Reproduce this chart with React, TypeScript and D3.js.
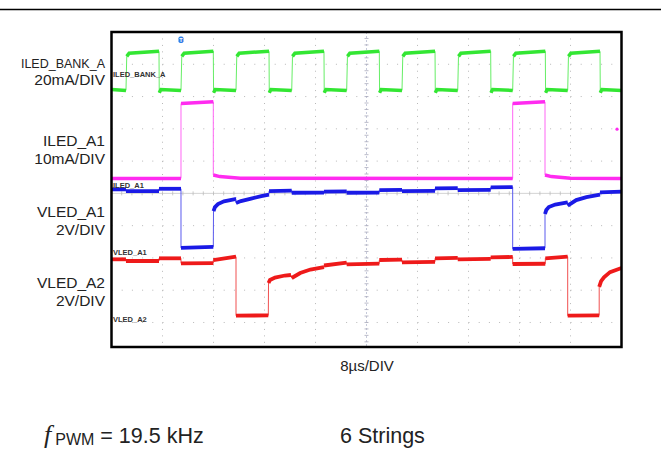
import React from "react";
import * as d3 from "d3";

// ---- data (time in µs, level in screen divisions, 0 = centre line) ----
const greenRise = [2.27, 10.9, 19.53, 28.27, 36.89, 45.57, 54.31, 62.93, 71.56];
const greenFall = [7.45, 15.97, 24.71, 33.33, 42.01, 50.75, 59.48, 68.05, 76.63];
const greenHigh = 4.384;
const greenLow = 3.22;

const magentaSegs: [number, number][][] = [
  [[0, 0.464], [10.9, 0.464]],
  [[10.9, 2.786], [15.97, 2.836]],
  [[15.97, 0.567], [17.0, 0.52], [20.2, 0.47], [62.93, 0.464]],
  [[62.93, 2.786], [68.0, 2.836]],
  [[68.0, 0.567], [69.0, 0.52], [72.0, 0.47], [80, 0.464]],
];
const magentaMarker: [number, number] = [79.3, 1.99];

const blueSegs: [number, number][][] = [
  [[0, 0.124], [2.27, 0.124]],
  [[2.27, 0.071], [7.45, 0.071]],
  [[7.45, 0.142], [10.9, 0.142]],
  [[10.9, -1.69], [15.97, -1.66]],
  [[16.0, -0.548], [16.23, -0.424], [16.7, -0.331], [17.65, -0.248], [19.37, -0.176], [19.53, -0.18]],
  [[19.53, -0.3], [20.3, -0.238], [21.9, -0.161], [23.5, -0.084], [24.71, -0.037]],
  [[24.71, 0.071], [28.27, 0.085]],
  [[28.27, 0.019], [33.33, 0.025]],
  [[33.33, 0.056], [36.89, 0.06]],
  [[36.89, 0.019], [42.01, 0.025]],
  [[42.01, 0.102], [45.57, 0.108]],
  [[45.57, 0.071], [50.75, 0.077]],
  [[50.75, 0.155], [54.31, 0.16]],
  [[54.31, 0.102], [59.48, 0.11]],
  [[59.48, 0.186], [62.93, 0.196]],
  [[62.93, -1.72], [68.0, -1.7]],
  [[68.0, -0.64], [68.2, -0.517], [68.6, -0.424], [69.6, -0.347], [71.3, -0.285], [71.56, -0.28]],
  [[71.56, -0.378], [72.9, -0.207], [74.5, -0.115], [76.63, -0.037]],
  [[76.63, 0.031], [80, 0.056]],
];

const redSegs: [number, number][][] = [
  [[0, -2.043], [2.27, -2.043]],
  [[2.27, -2.096], [7.45, -2.096]],
  [[7.45, -2.012], [10.9, -2.012]],
  [[10.9, -2.167], [15.97, -2.16]],
  [[15.97, -2.065], [19.53, -1.963]],
  [[19.53, -3.79], [24.6, -3.78]],
  [[24.63, -2.777], [24.86, -2.684], [25.65, -2.607], [27.2, -2.545], [28.15, -2.529]],
  [[28.27, -2.622], [29.6, -2.467], [31.2, -2.359], [33.33, -2.282]],
  [[33.33, -2.235], [36.89, -2.149]],
  [[36.89, -2.198], [42.01, -2.175]],
  [[42.01, -2.065], [45.57, -2.055]],
  [[45.57, -2.136], [50.75, -2.12]],
  [[50.75, -2.012], [54.31, -2.0]],
  [[54.31, -2.043], [59.48, -2.03]],
  [[59.48, -1.981], [62.93, -1.97]],
  [[62.93, -2.189], [68.05, -2.18]],
  [[68.05, -2.012], [71.56, -1.963]],
  [[71.56, -3.79], [76.5, -3.78]],
  [[76.5, -2.9], [76.8, -2.72], [77.25, -2.6], [78.2, -2.44], [80, -2.31]],
];

const channelTags = ["ILED_BANK_A", "ILED_A1", "VLED_A1", "VLED_A2"];
const channelTagLevels = [3.6, 0.16, -1.9, -4.0];
const leftNames = ["ILED_BANK_A", "ILED_A1", "VLED_A1", "VLED_A2"];
const leftScales = ["20mA/DIV", "10mA/DIV", "2V/DIV", "2V/DIV"];
const timeLabel = "8µs/DIV";
const triggerTime = 10.9;

// ---- layout ----
const W = 661, H = 450;
const PX0 = 111.5, PX1 = 621.5, PY0 = 32, PY1 = 347;
const FONT = "'Liberation Sans', Arial, sans-serif";

const x = d3.scaleLinear().domain([0, 80]).range([PX0, PX1]);
const y = d3.scaleLinear().domain([-4.76, 5]).range([PY1, PY0]);

function buildGreen(): [number, number][][] {
  const segs: [number, number][][] = [];
  let prevFall = 0;
  greenRise.forEach((r, i) => {
    const low: [number, number][] = [];
    if (i === 0) low.push([0, greenLow]);
    else {
      low.push([prevFall + 0.04, greenLow - 0.1]);
      low.push([prevFall + 0.3, greenLow]);
    }
    low.push([r, greenLow - 0.03]);
    segs.push(low);
    const f = greenFall[i];
    segs.push([[r + 0.12, greenHigh - 0.14], [r + 0.5, greenHigh - 0.04], [f, greenHigh + 0.02]]);
    prevFall = f;
  });
  segs.push([[prevFall + 0.04, greenLow - 0.1], [prevFall + 0.3, greenLow], [80, greenLow - 0.03]]);
  return segs;
}

const line = d3.line<[number, number]>().x((d) => x(d[0])).y((d) => y(d[1]));

function Trace({ segs, color, thick, thin }: { segs: [number, number][][]; color: string; thick: number; thin: string }) {
  const all = segs.flat();
  return (
    <g>
      <path d={line(all) || ""} fill="none" stroke={thin} strokeWidth={1} />
      {segs.map((s, i) => (
        <path key={i} d={line(s) || ""} fill="none" stroke={color} strokeWidth={thick} strokeLinecap="butt" />
      ))}
    </g>
  );
}

export default function App() {
  const divX = (PX1 - PX0) / 10;
  const divY = y(0) - y(1);
  const cx = x(40), cy = y(0);
  const vLines = d3.range(1, 10).filter((k) => k !== 5).map((k) => PX0 + k * divX);
  const hLines = [-4, -3, -2, -1, 1, 2, 3, 4].map((k) => y(k));
  const minorX = d3.range(0, 51).map((k) => PX0 + (k * divX) / 5);
  const minorY = d3.range(-24, 26).map((k) => y(k / 5)).filter((v) => v > PY0 && v < PY1);
  const green = buildGreen();

  return (
    <svg width={W} height={H} style={{ display: "block", position: "absolute", left: 0, top: 0, background: "#fff" }}>
      <line x1={0} x2={W} y1={9.5} y2={9.5} stroke="#000" strokeWidth={1.5} />

      {/* grid */}
      <g>
        {vLines.map((vx, i) => (
          <line key={"v" + i} x1={vx} x2={vx} y1={PY0} y2={PY1} stroke="#b8b8b8" strokeWidth={1} strokeDasharray={`1 ${divY / 5 - 1}`} strokeDashoffset={-(cy - PY0) % (divY / 5)} />
        ))}
        {hLines.map((hy, i) => (
          <line key={"h" + i} x1={PX0} x2={PX1} y1={hy} y2={hy} stroke="#b8b8b8" strokeWidth={1} strokeDasharray={`1 ${divX / 5 - 1}`} />
        ))}
        <line x1={cx} x2={cx} y1={PY0} y2={PY1} stroke="#b8bcd0" strokeWidth={0.8} strokeDasharray="2 2" />
        <line x1={PX0} x2={PX1} y1={cy} y2={cy} stroke="#c8c8c8" strokeWidth={0.8} />
        {minorY.map((v, i) => (
          <line key={"ty" + i} x1={cx - 2} x2={cx + 2} y1={v} y2={v} stroke="#aab" strokeWidth={0.8} />
        ))}
        {minorX.map((v, i) => (
          <line key={"tx" + i} x1={v} x2={v} y1={cy - 2} y2={cy + 2} stroke="#bbb" strokeWidth={0.8} />
        ))}
      </g>

      {/* traces */}
      <Trace segs={green} color="#33e633" thick={3.5} thin="#66ee66" />
      <Trace segs={magentaSegs} color="#ff2bf0" thick={3.5} thin="#ff66f4" />
      <Trace segs={blueSegs} color="#1a1ae6" thick={3.8} thin="#5a5aee" />
      <Trace segs={redSegs} color="#ee1a1a" thick={3.8} thin="#f05050" />
      <circle cx={x(magentaMarker[0])} cy={y(magentaMarker[1])} r={1.6} fill="#ff2bf0" />

      {/* channel tags inside plot */}
      {channelTags.map((t, i) => (
        <text key={t} x={PX0 + 1.5} y={y(channelTagLevels[i])} fontFamily={FONT} fontSize={7.5} fontWeight="bold" fill="#333">{t}</text>
      ))}

      {/* frame */}
      <rect x={PX0} y={PY0} width={PX1 - PX0} height={PY1 - PY0} fill="none" stroke="#000" strokeWidth={2.5} />

      {/* trigger marker */}
      <rect x={x(triggerTime) - 2.5} y={PY0 + 4.5} width={5} height={6.5} rx={1.8} fill="#2f7fe8" />
      <text x={x(triggerTime)} y={PY0 + 10} textAnchor="middle" fontFamily={FONT} fontSize={5.5} fontWeight="bold" fill="#fff">T</text>

      {/* left labels */}
      <text x={105} y={67.5} textAnchor="end" fontFamily={FONT} fontSize={12.5} fill="#222">{leftNames[0]}</text>
      <text x={105} y={84.5} textAnchor="end" fontFamily={FONT} fontSize={15.5} fill="#222">{leftScales[0]}</text>
      <text x={105} y={145.5} textAnchor="end" fontFamily={FONT} fontSize={15.5} fill="#222">{leftNames[1]}</text>
      <text x={105} y={164} textAnchor="end" fontFamily={FONT} fontSize={15.5} fill="#222">{leftScales[1]}</text>
      <text x={105} y={216.5} textAnchor="end" fontFamily={FONT} fontSize={15.5} fill="#222">{leftNames[2]}</text>
      <text x={105} y={234.5} textAnchor="end" fontFamily={FONT} fontSize={15.5} fill="#222">{leftScales[2]}</text>
      <text x={105} y={287.5} textAnchor="end" fontFamily={FONT} fontSize={15.5} fill="#222">{leftNames[3]}</text>
      <text x={105} y={305.5} textAnchor="end" fontFamily={FONT} fontSize={15.5} fill="#222">{leftScales[3]}</text>

      <text x={367} y={371} textAnchor="middle" fontFamily={FONT} fontSize={15} fill="#222">{timeLabel}</text>

      <text x={44} y={443} fontFamily={FONT} fontSize={21.5} fill="#222">
        <tspan fontFamily="'Liberation Serif', serif" fontStyle="italic" fontSize={26}>f</tspan>
        <tspan dx={4} dy={2} fontSize={16}>PWM</tspan>
        <tspan dy={-2}> = 19.5 kHz</tspan>
      </text>
      <text x={340} y={443} fontFamily={FONT} fontSize={21.5} fill="#222">6 Strings</text>
    </svg>
  );
}
